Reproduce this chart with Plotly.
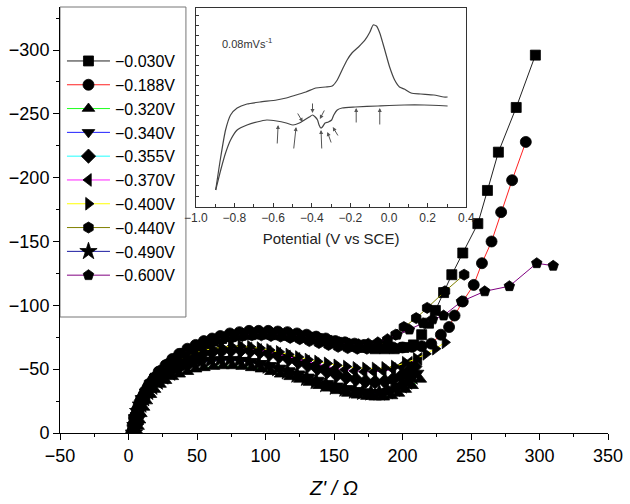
import plotly.graph_objects as go

FONT = "Liberation Sans, Arial, sans-serif"

# ---------------- Nyquist data (Z' / ohm , Z'' / ohm) ----------------
labels = ["\u22120.030V", "\u22120.188V", "\u22120.320V", "\u22120.340V", "\u22120.355V",
          "\u22120.370V", "\u22120.400V", "\u22120.440V", "\u22120.490V", "\u22120.600V"]

zre_030 = [3, 4, 5, 7, 9, 12, 15, 19, 23, 28, 33, 38, 44, 50, 56, 62, 68, 75, 82, 89,
           96, 103, 110, 117, 124, 131, 138, 145, 152, 159, 166, 173, 180, 187, 194, 201, 208,
           214, 219, 224, 230, 236, 244, 255, 262, 270, 283, 297]
zim_030 = [0, -6, -12, -18, -24, -30, -36, -42, -47, -52, -56, -60, -64, -67, -70, -72, -74, -75.5, -76.5, -77,
           -77.5, -77.5, -77, -76.5, -76, -75, -74, -72.5, -71, -69.5, -68, -67, -66, -66, -66, -67, -69,
           -77, -86, -96, -110, -124, -141, -164, -190, -220, -255, -296]

zre_188 = [2, 3, 4, 6, 8, 11, 14, 18, 22, 27, 32, 37, 43, 49, 55, 61, 67, 74, 81, 88,
           95, 102, 109, 116, 123, 130, 137, 144, 151, 158, 165, 172, 179, 186, 193, 200, 207, 214, 221, 228,
           234, 238, 244, 252, 258, 265, 272, 280, 290]
zim_188 = [0, -6, -12, -18, -24, -30, -36, -42, -48, -53, -58, -62, -66, -69, -72, -74, -76, -78, -79, -80,
           -80, -80, -79.5, -79, -78, -77, -75.5, -74, -72, -71, -70, -69, -68, -67.5, -67, -67, -67.5, -68, -70, -77,
           -83, -92, -103, -116, -133, -150, -173, -198, -228]

zre_320 = [6, 7, 8, 9, 11, 13, 16, 19, 23, 27, 32, 37, 43, 49, 55, 62, 69, 76, 83, 90,
           97, 104, 111, 118, 125, 132, 139, 146, 153, 160, 167, 174, 180, 186, 192, 197, 202, 207, 213]
zim_320 = [0, -5, -10, -15, -20, -25, -30, -34, -38, -41, -44, -46, -48, -50, -51, -52, -52.5, -52.5, -52, -51,
           -50, -48, -46, -44, -42, -39.5, -37, -35, -33, -31, -29.5, -28.5, -28, -28, -29, -31, -34, -37, -42]

zre_340 = [5, 6, 7, 8, 10, 12, 15, 18, 22, 26, 31, 36, 42, 48, 54, 61, 68, 75, 82, 89,
           96, 103, 110, 117, 124, 131, 138, 145, 152, 159, 166, 172, 178, 184, 190, 196, 201, 206, 211]
zim_340 = [0, -6, -12, -18, -23, -28, -33, -37, -41, -45, -48, -51, -53, -55, -56, -57, -57.5, -57.5, -57, -56,
           -54.5, -53, -51, -49, -46.5, -44, -41.5, -39, -37, -35, -33.5, -32.5, -32, -32, -33, -35, -38, -42, -47]

zre_355 = [5, 6, 7, 8, 10, 12, 15, 18, 22, 26, 31, 36, 42, 48, 54, 61, 68, 75, 82, 89,
           96, 103, 110, 117, 124, 131, 138, 145, 152, 159, 166, 173, 180, 187, 193, 199, 204, 209]
zim_355 = [0, -7, -13, -19, -25, -30, -35, -40, -44, -48, -52, -55, -58, -60, -62, -63.5, -64.5, -65, -65, -64.5,
           -63.5, -62, -60, -58, -55.5, -53, -50.5, -48, -45.5, -43.5, -42, -40.5, -40, -40.5, -42, -44.5, -48, -52]

zre_370 = [4, 5, 6, 7, 9, 11, 14, 17, 21, 25, 30, 35, 41, 47, 53, 60, 67, 74, 81, 88,
           95, 102, 109, 116, 123, 130, 137, 144, 151, 158, 165, 172, 179, 186, 193, 199, 205, 212]
zim_370 = [0, -7, -14, -20, -26, -31, -36, -41, -45, -49, -53, -56, -59, -61.5, -63.5, -65, -66, -66.5, -66.5, -66,
           -65, -63.5, -62, -60, -58, -56, -54, -52, -50.5, -49.5, -48.5, -48, -48, -48.5, -50, -52, -55, -58]

zre_400 = [4, 5, 6, 8, 10, 12, 15, 18, 22, 26, 31, 36, 42, 48, 54, 61, 68, 75, 82, 89,
           96, 103, 110, 117, 124, 131, 138, 145, 152, 159, 166, 173, 180, 187, 194, 202, 210, 217, 224, 231]
zim_400 = [0, -7, -14, -21, -27, -32, -37, -42, -46, -50, -54, -57, -60, -62.5, -64.5, -66, -67, -68, -68, -67.5,
           -66.5, -65, -63.5, -61.5, -59.5, -57.5, -56, -54.5, -53, -52, -51, -50.5, -50.5, -51, -52, -55, -58, -62, -66, -71]

zre_440 = [3, 4, 5, 7, 9, 12, 15, 19, 23, 28, 33, 38, 44, 50, 56, 62, 69, 76, 83, 90,
           97, 104, 111, 118, 125, 132, 139, 146, 153, 160, 167, 174, 181, 189, 195, 201, 210, 218, 231, 245]
zim_440 = [0, -7, -14, -21, -27, -33, -39, -44, -49, -54, -58, -62, -65, -68, -70.5, -72.5, -74, -75, -76, -76.5,
           -76.5, -76, -75.5, -74.5, -73.5, -72, -70.5, -69, -67.5, -66.5, -66, -66, -68, -72, -77, -83, -90, -98, -111, -124]

zre_490 = [4, 5, 6, 7, 9, 11, 14, 17, 21, 25, 30, 35, 41, 47, 53, 60, 67, 74, 81, 88,
           95, 102, 109, 116, 123, 130, 137, 144, 151, 158, 165, 171, 177, 183, 189, 194, 199, 203, 207]
zim_490 = [0, -6, -12, -17, -22, -27, -32, -36, -40, -44, -47, -50, -52.5, -54.5, -56, -57, -57.5, -57.5, -57, -56,
           -54.5, -52.5, -50.5, -48, -45.5, -43, -40.5, -38, -36, -34.5, -33, -32, -31.5, -31.5, -32.5, -34.5, -37, -40, -44]

zre_600 = [4, 5, 6, 8, 10, 13, 16, 20, 24, 29, 34, 39, 45, 51, 57, 63, 70, 77, 84, 91,
           98, 105, 112, 119, 126, 133, 140, 147, 154, 161, 168, 175, 182, 189, 196, 205, 215, 222, 230, 243,
           260, 278, 298, 310]
zim_600 = [0, -7, -14, -21, -27, -33, -39, -44, -49, -54, -58, -62, -65.5, -68.5, -71, -73, -75, -76.5, -77.5, -78,
           -78, -78, -77.5, -77, -76, -75, -73.5, -72, -71, -70, -69.5, -70, -71, -73.5, -77, -81, -86, -89, -92, -103,
           -111, -115, -133, -131]

zre_all = [zre_030, zre_188, zre_320, zre_340, zre_355, zre_370, zre_400, zre_440, zre_490, zre_600]
zim_all = [zim_030, zim_188, zim_320, zim_340, zim_355, zim_370, zim_400, zim_440, zim_490, zim_600]

# ---------------- Inset CV data (potential V vs SCE, current a.u.) ----------------
cv_anodic_pot = [-0.897, -0.871, -0.846, -0.820, -0.786, -0.735, -0.668, -0.582, -0.532, -0.481,
                 -0.430, -0.379, -0.328, -0.294, -0.268, -0.243, -0.217, -0.192, -0.158, -0.124,
                 -0.099, -0.082, -0.065, -0.048, -0.022, 0.003, 0.029, 0.054, 0.079, 0.114,
                 0.164, 0.232, 0.283, 0.303]
cv_anodic_cur = [-0.84, -0.51, -0.24, -0.09, -0.02, 0.02, 0.04, 0.06, 0.08, 0.11,
                 0.14, 0.18, 0.19, 0.20, 0.26, 0.36, 0.46, 0.53, 0.59, 0.66,
                 0.74, 0.81, 0.80, 0.73, 0.56, 0.39, 0.26, 0.19, 0.17, 0.13,
                 0.12, 0.11, 0.09, 0.09]
cv_cathodic_pot = [0.303, 0.181, 0.079, -0.057, -0.175, -0.243, -0.268, -0.286, -0.297, -0.314,
                   -0.331, -0.345, -0.353, -0.362, -0.370, -0.382, -0.396, -0.413, -0.438, -0.464,
                   -0.497, -0.532, -0.582, -0.633, -0.684, -0.735, -0.786, -0.820, -0.846, -0.871, -0.897]
cv_cathodic_cur = [0.00, 0.01, 0.01, 0.00, -0.01, -0.02, -0.04, -0.09, -0.14, -0.16,
                   -0.17, -0.21, -0.22, -0.19, -0.14, -0.11, -0.09, -0.11, -0.14, -0.17,
                   -0.19, -0.17, -0.15, -0.14, -0.16, -0.19, -0.24, -0.34, -0.47, -0.64, -0.84]

# arrows on the cathodic branch: tail (pot, cur) -> head (pot, cur)
arrow_tail_pot = [-0.579, -0.494, -0.477, -0.396, -0.331, -0.348, -0.297, -0.260, -0.170, -0.048]
arrow_tail_cur = [-0.39, -0.44, -0.06, 0.04, -0.03, -0.44, -0.38, -0.31, -0.18, -0.20]
arrow_head_pot = [-0.574, -0.481, -0.447, -0.396, -0.358, -0.352, -0.319, -0.291, -0.170, -0.048]
arrow_head_cur = [-0.19, -0.21, -0.16, -0.07, -0.13, -0.24, -0.26, -0.21, -0.02, -0.02]

# ---------------- styles ----------------
symbols = ["square", "circle", "triangle-up", "triangle-down", "diamond",
           "triangle-left", "triangle-right", "hexagon", "star", "pentagon"]
line_colors = ["#222222", "#ff2020", "#20ff20", "#2020ff", "#20ffff",
               "#ff20ff", "#ffff00", "#808000", "#1a1aa0", "#800080"]
msizes = [10, 11, 11, 11, 11, 11, 11, 11, 13, 11]

fig = go.Figure()

for i in range(len(labels)):
    fig.add_trace(go.Scatter(
        x=zre_all[i], y=zim_all[i], mode="lines+markers", name=labels[i],
        line=dict(color=line_colors[i], width=1),
        marker=dict(symbol=symbols[i], size=msizes[i], color="black",
                    line=dict(color="black", width=0.8)),
        xaxis="x", yaxis="y",
    ))

for px, cy in [(cv_anodic_pot, cv_anodic_cur), (cv_cathodic_pot, cv_cathodic_cur)]:
    fig.add_trace(go.Scatter(
        x=px, y=cy, mode="lines", showlegend=False,
        line=dict(color="#444444", width=1.2, shape="spline", smoothing=0.6),
        xaxis="x2", yaxis="y2",
    ))

annotations = []
for i in range(len(arrow_tail_pot)):
    annotations.append(dict(
        x=arrow_head_pot[i], y=arrow_head_cur[i], ax=arrow_tail_pot[i], ay=arrow_tail_cur[i],
        xref="x2", yref="y2", axref="x2", ayref="y2", text="", showarrow=True,
        arrowhead=2, arrowsize=0.8, arrowwidth=1, arrowcolor="#555555", standoff=0,
    ))
annotations.append(dict(
    x=-0.873, y=0.63, xref="x2", yref="y2", text="0.08mVs<sup>-1</sup>",
    showarrow=False, xanchor="left", yanchor="middle",
    font=dict(family=FONT, size=11, color="#333333"),
))

fig.update_layout(
    width=630, height=504,
    margin=dict(l=60, r=13, t=7, b=71),
    paper_bgcolor="white", plot_bgcolor="rgba(0,0,0,0)",
    font=dict(family=FONT, color="black"),
    showlegend=True,
    legend=dict(x=0.0036, y=0.913, xanchor="left", yanchor="top",
                bgcolor="rgba(0,0,0,0)", borderwidth=0,
                font=dict(family=FONT, size=16, color="black"),
                itemwidth=43, tracegroupgap=0),
    xaxis=dict(range=[-50, 350], dtick=50, tick0=0, showgrid=False, zeroline=False,
               showline=True, linecolor="black", linewidth=1,
               ticks="outside", ticklen=6, tickwidth=1, tickcolor="black",
               minor=dict(ticks="outside", ticklen=3, dtick=25, tickcolor="black"),
               tickfont=dict(family=FONT, size=18, color="black"),
               title=dict(text="<i>Z' / \u03a9</i>", font=dict(family=FONT, size=20), standoff=16),
               domain=[0, 1], anchor="y"),
    yaxis=dict(range=[0, -333.7], dtick=50, tick0=0, showgrid=False, zeroline=False,
               showline=True, linecolor="black", linewidth=1,
               ticks="outside", ticklen=6, tickwidth=1, tickcolor="black",
               minor=dict(ticks="outside", ticklen=3, dtick=25, tickcolor="black"),
               tickfont=dict(family=FONT, size=18, color="black"),
               domain=[0, 1], anchor="x"),
    xaxis2=dict(domain=[0.2478, 0.7415], anchor="y2", range=[-1.0, 0.4],
                dtick=0.2, tick0=0, tickformat=".1f", showgrid=False, zeroline=False,
                showline=True, mirror=True, linecolor="#333333", linewidth=1,
                ticks="inside", ticklen=4, tickcolor="#333333",
                minor=dict(ticks="inside", ticklen=3, dtick=0.1, tickcolor="#333333"),
                tickfont=dict(family=FONT, size=12, color="#333333"),
                title=dict(text="Potential (V vs SCE)", font=dict(family=FONT, size=15, color="#222222"),
                           standoff=9)),
    yaxis2=dict(domain=[0.5305, 0.9977], anchor="x2", range=[-1.01, 0.98],
                showticklabels=False, showgrid=False, zeroline=False,
                showline=True, mirror=True, linecolor="#333333", linewidth=1,
                ticks="inside", ticklen=3, dtick=0.2, tick0=0, tickcolor="#333333",
                minor=dict(ticks="inside", ticklen=3, dtick=0.1, tickcolor="#333333")),
    shapes=[dict(type="rect", xref="paper", yref="paper", x0=0, x1=0.2298, y0=0.2723, y1=1.0,
                 line=dict(color="#777777", width=1), fillcolor="white", layer="below")],
    annotations=annotations,
)

fig.write_html("out.html")
